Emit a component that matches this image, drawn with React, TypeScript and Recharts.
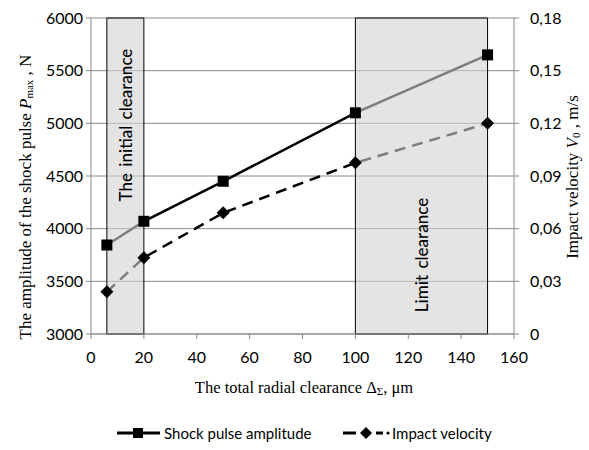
import {
  CartesianGrid,
  Line,
  LineChart,
  ReferenceArea,
  XAxis,
  YAxis,
  Legend,
} from "recharts";

const clearance = [6, 20, 50, 100, 150];
const shockPulse = [3845, 4070, 4450, 5100, 5650];
const impactVelocity = [0.024, 0.0435, 0.069, 0.0975, 0.12];

const xTicks = [0, 20, 40, 60, 80, 100, 120, 140, 160];
const leftTicks = [3000, 3500, 4000, 4500, 5000, 5500, 6000];
const rightTicks = [0, 0.03, 0.06, 0.09, 0.12, 0.15, 0.18];

const zones = [
  { x1: 6, x2: 20, label: "The initial clearance", shift: 107 },
  { x1: 100, x2: 150, label: "Limit clearance", shift: 237 },
];

const data = clearance.map((x, i) => ({
  x,
  shock: shockPulse[i],
  velocity: impactVelocity[i],
}));

const SANS = "Lato, 'Open Sans', sans-serif";
const SERIF = "'Liberation Serif', 'DejaVu Serif', serif";

const Square = (props: any) => {
  const { cx, cy, key } = props;
  if (cx == null || cy == null) return <g key={key} />;
  return <rect key={key} x={cx - 5.5} y={cy - 5.5} width={11} height={11} fill="#000" />;
};

const Diamond = (props: any) => {
  const { cx, cy, key } = props;
  if (cx == null || cy == null) return <g key={key} />;
  const r = 6.5;
  return (
    <path
      key={key}
      d={`M${cx},${cy - r} L${cx + r},${cy} L${cx},${cy + r} L${cx - r},${cy} Z`}
      fill="#000"
    />
  );
};

const ZoneLabel = ({ viewBox, text, shift }: any) => {
  if (!viewBox) return null;
  const cx = viewBox.x + viewBox.width / 2;
  const cy = viewBox.y + shift;
  return (
    <text
      x={cx}
      y={cy}
      transform={`rotate(-90 ${cx} ${cy})`}
      textAnchor="middle"
      dominantBaseline="central"
      fontFamily={SANS}
      fontSize={17}
      fontWeight={500}
      wordSpacing={2}
      fill="#000"
    >
      {text}
    </text>
  );
};

const LegendContent = () => (
  <svg width={589} height={40} style={{ display: "block" }}>
    <g>
      <line x1={117} y1={23} x2={160} y2={23} stroke="#000" strokeWidth={3} />
      <rect x={133} y={18} width={10} height={10} fill="#000" />
      <text x={164} y={23} dominantBaseline="central" fontFamily={SANS} fontSize={15} fill="#000">
        Shock pulse amplitude
      </text>
    </g>
    <g>
      <line x1={343} y1={23} x2={356} y2={23} stroke="#000" strokeWidth={3} />
      <path d="M366,17 L372,23 L366,29 L360,23 Z" fill="#000" />
      <line x1={376} y1={23} x2={383} y2={23} stroke="#000" strokeWidth={3} />
      <circle cx={388} cy={23} r={1.6} fill="#000" />
      <text x={392} y={23} dominantBaseline="central" fontFamily={SANS} fontSize={15} fill="#000">
        Impact velocity
      </text>
    </g>
  </svg>
);

const LeftTitle = () => (
  <text
    x={25}
    y={197}
    transform="rotate(-90 25 197)"
    textAnchor="middle"
    dominantBaseline="central"
    fontFamily={SERIF}
    fontSize={17}
    fill="#000"
  >
    The amplitude  of the shock pulse{" "}
    <tspan fontStyle="italic">P</tspan>
    <tspan fontSize={11} dy={4}>max</tspan>
    <tspan dy={-4}> , N</tspan>
  </text>
);

const RightTitle = () => (
  <text
    x={572}
    y={177}
    transform="rotate(-90 572 177)"
    textAnchor="middle"
    dominantBaseline="central"
    fontFamily={SERIF}
    fontSize={17}
    fill="#000"
  >
    Impact  velocity <tspan fontStyle="italic">V</tspan>
    <tspan fontSize={11} dy={4}>0</tspan>
    <tspan dy={-4}> , m/s</tspan>
  </text>
);

const XTitle = () => (
  <text
    x={304}
    y={387}
    textAnchor="middle"
    dominantBaseline="central"
    fontFamily={SERIF}
    fontSize={16.5}
    fill="#000"
  >
    The total radial clearance Δ<tspan fontSize={11} dy={4}>Σ</tspan>
    <tspan dy={-4}>, μm</tspan>
  </text>
);

export default function App() {
  return (
    <div style={{ position: "absolute", left: 0, top: 0, width: 589, height: 450, background: "#fff" }}>
      <LineChart
        width={589}
        height={450}
        data={data}
        margin={{ top: 18, right: 0, bottom: 0, left: 0 }}
      >
        <CartesianGrid yAxisId="left" vertical={false} stroke="#8a8a8a" strokeWidth={1} />
        <XAxis
          dataKey="x"
          type="number"
          domain={[0, 160]}
          ticks={xTicks}
          height={76}
          tickSize={5}
          tickMargin={13}
          stroke="#8a8a8a"
          tick={{ fill: "#000", fontFamily: SANS, fontSize: 16 }}
        />
        <YAxis
          yAxisId="left"
          domain={[3000, 6000]}
          ticks={leftTicks}
          width={91}
          tickSize={5}
          tickMargin={3}
          stroke="#8a8a8a"
          tick={{ fill: "#000", fontFamily: SANS, fontSize: 16 }}
        />
        <YAxis
          yAxisId="right"
          orientation="right"
          domain={[0, 0.18]}
          ticks={rightTicks}
          width={75}
          tickSize={5}
          tickMargin={11}
          stroke="#8a8a8a"
          tickFormatter={(v: number) => (v === 0 ? "0" : v.toFixed(2).replace(".", ","))}
          tick={{ fill: "#000", fontFamily: SANS, fontSize: 16, textAnchor: "start" }}
        />
        <Line
          yAxisId="left"
          dataKey="shock"
          stroke="#000"
          strokeWidth={2.5}
          dot={false}
          isAnimationActive={false}
          legendType="none"
        />
        <Line
          yAxisId="right"
          dataKey="velocity"
          stroke="#000"
          strokeWidth={2.5}
          strokeDasharray="11 7"
          dot={false}
          isAnimationActive={false}
          legendType="none"
        />
        {zones.map((z) => (
          <ReferenceArea
            key={z.label}
            yAxisId="left"
            x1={z.x1}
            x2={z.x2}
            y1={3000}
            y2={6000}
            fill="#d2d2d2"
            fillOpacity={0.6}
            stroke="#000"
            strokeWidth={1}
            ifOverflow="visible"
            zIndex={450}
            label={<ZoneLabel text={z.label} shift={z.shift} />}
          />
        ))}
        <Line
          yAxisId="left"
          dataKey="shock"
          stroke="none"
          dot={<Square />}
          activeDot={false}
          isAnimationActive={false}
          zIndex={600}
          legendType="none"
        />
        <Line
          yAxisId="right"
          dataKey="velocity"
          stroke="none"
          dot={<Diamond />}
          activeDot={false}
          isAnimationActive={false}
          zIndex={600}
          legendType="none"
        />
        <Legend verticalAlign="bottom" height={40} content={<LegendContent />} />
        <LeftTitle />
        <RightTitle />
        <XTitle />
      </LineChart>
    </div>
  );
}
